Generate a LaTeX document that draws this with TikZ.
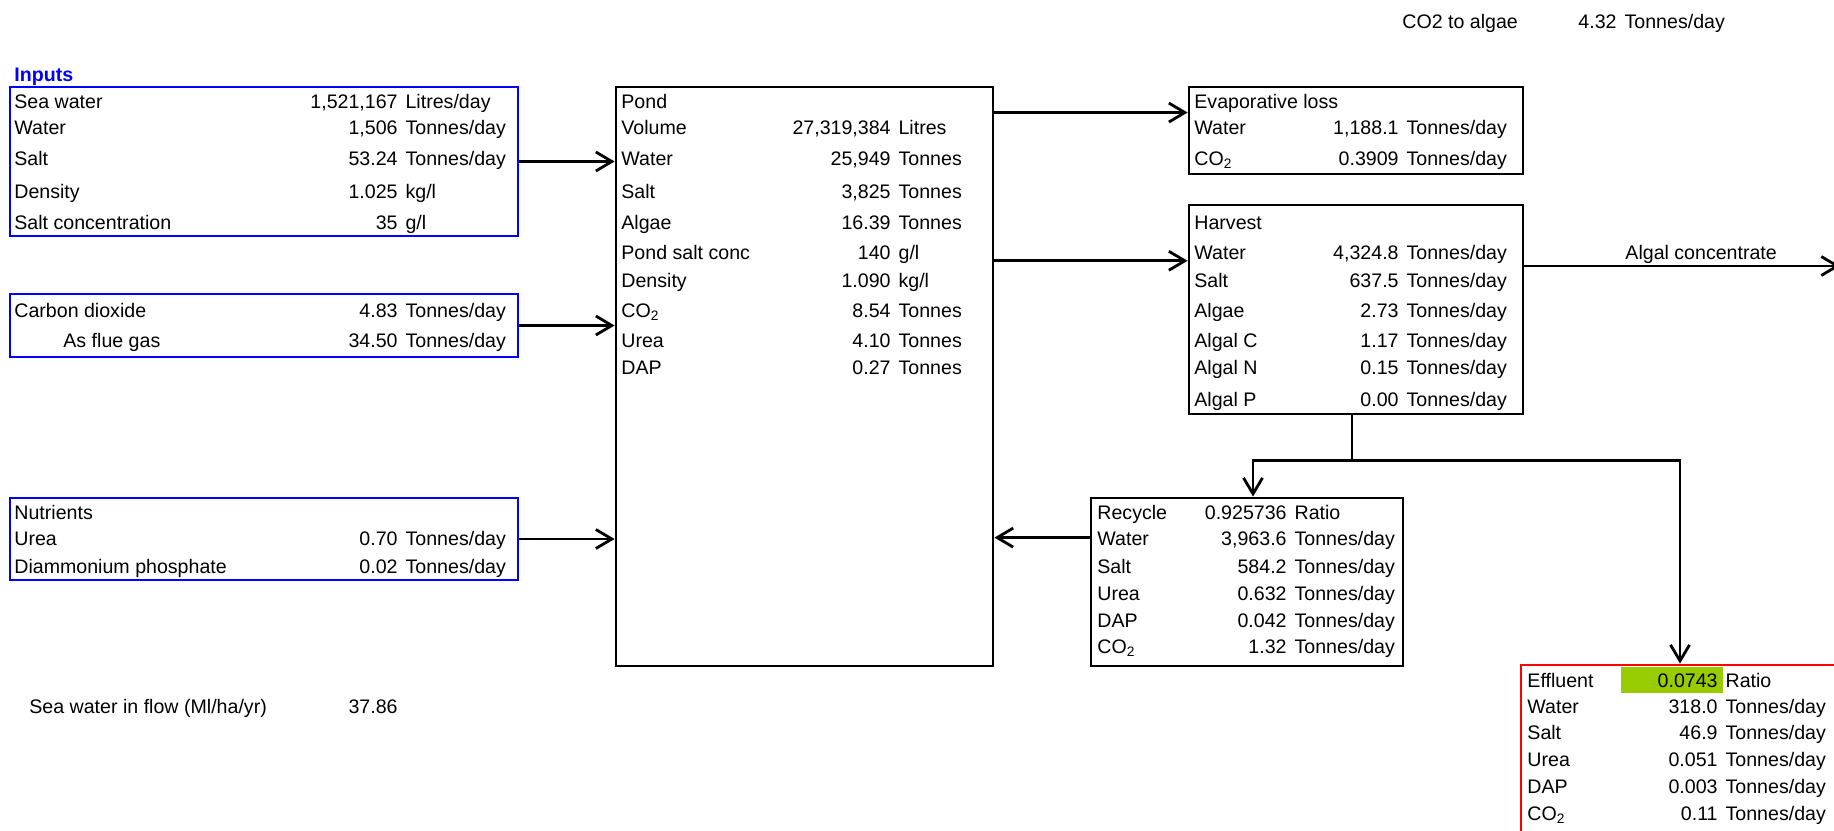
\documentclass[tikz,border=0pt]{standalone}
\usepackage{fontspec}
\setmainfont{Liberation Sans}
\usepackage{xcolor}
\usepackage{tikz}
\usetikzlibrary{arrows.meta,fit,calc}

\definecolor{xlblue}{RGB}{0,0,255}
\definecolor{xlred}{RGB}{255,0,0}
\definecolor{xlgreen}{RGB}{153,204,0}
\newcommand{\unt}[1]{\rlap{\hspace{4pt}#1}}

\begin{document}
\begin{tikzpicture}[
    x=0.5pt, y=-0.5pt,
    every node/.style={inner sep=0pt, font=\fontsize{9.8pt}{11pt}\selectfont},
    inbox/.style={draw=xlblue, line width=1.4pt, rectangle},
    unitbox/.style={draw=black, line width=1.4pt, rectangle},
    outbox/.style={draw=xlred, line width=1.4pt, rectangle},
    title/.style={anchor=base west, text=xlblue, font=\fontsize{9.8pt}{11pt}\selectfont\bfseries},
    lbl/.style={anchor=base west},
    val/.style={anchor=base east},
    arrow/.style={-{Straight Barb[length=8pt,width=9.5pt]}, line width=1.4pt},
    link/.style={line width=1.4pt}
]
\useasboundingbox (0,0) rectangle (1834,830);

% boxes
\node[inbox, fit={(10,87) (518,236)}] (inputs) {};
\node[inbox, fit={(10,294) (518,357)}] (gas) {};
\node[inbox, fit={(10,498) (518,580)}] (nutr) {};
\node[unitbox, fit={(616,87) (993,666)}] (pond) {};
\node[unitbox, fit={(1189,87) (1523,174)}] (evap) {};
\node[unitbox, fit={(1189,205) (1523,414)}] (harv) {};
\node[unitbox, fit={(1091,498) (1403,666)}] (recyc) {};
\node[fill=xlgreen, fit={(1621,667) (1723,693)}] (ratio) {};
\node[outbox, fit={(1521,665) (1839,850)}] (efflu) {};

% inputs
\node[title] (intitle) at (14,81) {Inputs};
\node[lbl] (in1) at (14,108) {Sea water};           \node[val] (in1v) at (398,108) {1,521,167\unt{Litres/day}};
\node[lbl] (in2) at (14,134) {Water};               \node[val] (in2v) at (398,134) {1,506\unt{Tonnes/day}};
\node[lbl] (in3) at (14,165) {Salt};                \node[val] (in3v) at (398,165) {53.24\unt{Tonnes/day}};
\node[lbl] (in4) at (14,198) {Density};             \node[val] (in4v) at (398,198) {1.025\unt{kg/l}};
\node[lbl] (in5) at (14,229) {Salt concentration};  \node[val] (in5v) at (398,229) {35\unt{g/l}};

\node[lbl] (gas1) at (14,317) {Carbon dioxide};     \node[val] (gas1v) at (398,317) {4.83\unt{Tonnes/day}};
\node[lbl] (gas2) at (63,347) {As flue gas};        \node[val] (gas2v) at (398,347) {34.50\unt{Tonnes/day}};

\node[lbl] (nu0) at (14,519) {Nutrients};
\node[lbl] (nu1) at (14,545) {Urea};                \node[val] (nu1v) at (398,545) {0.70\unt{Tonnes/day}};
\node[lbl] (nu2) at (14,573) {Diammonium phosphate}; \node[val] (nu2v) at (398,573) {0.02\unt{Tonnes/day}};

\node[lbl] (flow) at (29,713) {Sea water in flow (Ml/ha/yr)};  \node[val] (flowv) at (398,713) {37.86};

% pond
\node[lbl] (po0) at (621,108) {Pond};
\node[lbl] (po1) at (621,134) {Volume};             \node[val] (po1v) at (891,134) {27,319,384\unt{Litres}};
\node[lbl] (po2) at (621,165) {Water};              \node[val] (po2v) at (891,165) {25,949\unt{Tonnes}};
\node[lbl] (po3) at (621,198) {Salt};               \node[val] (po3v) at (891,198) {3,825\unt{Tonnes}};
\node[lbl] (po4) at (621,229) {Algae};              \node[val] (po4v) at (891,229) {16.39\unt{Tonnes}};
\node[lbl] (po5) at (621,259) {Pond salt conc};     \node[val] (po5v) at (891,259) {140\unt{g/l}};
\node[lbl] (po6) at (621,287) {Density};            \node[val] (po6v) at (891,287) {1.090\unt{kg/l}};
\node[lbl] (po7) at (621,317) {CO\textsubscript{2}}; \node[val] (po7v) at (891,317) {8.54\unt{Tonnes}};
\node[lbl] (po8) at (621,347) {Urea};               \node[val] (po8v) at (891,347) {4.10\unt{Tonnes}};
\node[lbl] (po9) at (621,374) {DAP};                \node[val] (po9v) at (891,374) {0.27\unt{Tonnes}};

% evaporation and harvest
\node[lbl] (co2a) at (1402,28) {CO2 to algae};      \node[val] (co2av) at (1617,28) {4.32\unt{Tonnes/day}};
\node[lbl] (ev0) at (1194,108) {Evaporative loss};
\node[lbl] (ev1) at (1194,134) {Water};             \node[val] (ev1v) at (1399,134) {1,188.1\unt{Tonnes/day}};
\node[lbl] (ev2) at (1194,165) {CO\textsubscript{2}}; \node[val] (ev2v) at (1399,165) {0.3909\unt{Tonnes/day}};

\node[lbl] (hv0) at (1194,229) {Harvest};
\node[lbl] (hv1) at (1194,259) {Water};             \node[val] (hv1v) at (1399,259) {4,324.8\unt{Tonnes/day}};
\node[lbl] (hv2) at (1194,287) {Salt};              \node[val] (hv2v) at (1399,287) {637.5\unt{Tonnes/day}};
\node[lbl] (hv3) at (1194,317) {Algae};             \node[val] (hv3v) at (1399,317) {2.73\unt{Tonnes/day}};
\node[lbl] (hv4) at (1194,347) {Algal C};           \node[val] (hv4v) at (1399,347) {1.17\unt{Tonnes/day}};
\node[lbl] (hv5) at (1194,374) {Algal N};           \node[val] (hv5v) at (1399,374) {0.15\unt{Tonnes/day}};
\node[lbl] (hv6) at (1194,406) {Algal P};           \node[val] (hv6v) at (1399,406) {0.00\unt{Tonnes/day}};
\node[lbl] (algc) at (1625,259) {Algal concentrate};

% recycle and effluent
\node[lbl] (rc0) at (1097,519) {Recycle};           \node[val] (rc0v) at (1287,519) {0.925736\unt{Ratio}};
\node[lbl] (rc1) at (1097,545) {Water};             \node[val] (rc1v) at (1287,545) {3,963.6\unt{Tonnes/day}};
\node[lbl] (rc2) at (1097,573) {Salt};              \node[val] (rc2v) at (1287,573) {584.2\unt{Tonnes/day}};
\node[lbl] (rc3) at (1097,600) {Urea};              \node[val] (rc3v) at (1287,600) {0.632\unt{Tonnes/day}};
\node[lbl] (rc4) at (1097,627) {DAP};               \node[val] (rc4v) at (1287,627) {0.042\unt{Tonnes/day}};
\node[lbl] (rc5) at (1097,653) {CO\textsubscript{2}}; \node[val] (rc5v) at (1287,653) {1.32\unt{Tonnes/day}};

\node[lbl] (ef0) at (1527,687) {Effluent};          \node[val] (ef0v) at (1718,687) {0.0743\unt{Ratio}};
\node[lbl] (ef1) at (1527,713) {Water};             \node[val] (ef1v) at (1718,713) {318.0\unt{Tonnes/day}};
\node[lbl] (ef2) at (1527,739) {Salt};              \node[val] (ef2v) at (1718,739) {46.9\unt{Tonnes/day}};
\node[lbl] (ef3) at (1527,766) {Urea};              \node[val] (ef3v) at (1718,766) {0.051\unt{Tonnes/day}};
\node[lbl] (ef4) at (1527,793) {DAP};               \node[val] (ef4v) at (1718,793) {0.003\unt{Tonnes/day}};
\node[lbl] (ef5) at (1527,820) {CO\textsubscript{2}}; \node[val] (ef5v) at (1718,820) {0.11\unt{Tonnes/day}};

% flows
\draw[arrow] (inputs.east) -- (inputs.east -| pond.west);
\draw[arrow] (gas.east) -- (gas.east -| pond.west);
\draw[arrow] (nutr.east) -- (nutr.east -| pond.west);
\coordinate (evin) at ($(evap.north west)!0.3!(evap.south west)$);
\coordinate (hvin) at ($(harv.north west)!0.27!(harv.south west)$);
\draw[arrow] (evin -| pond.east) -- (evin);
\draw[arrow] (hvin -| pond.east) -- (hvin);
\coordinate (algout) at (1840,266);
\draw[arrow] (algout -| harv.east) -- (algout);
\coordinate (hvout) at ([xshift=-2pt]harv.south);
\coordinate (split) at ($(hvout)+(0,45)$);
\draw[link] (hvout) -- (split);
\draw[arrow] (split) -| ([xshift=3pt]recyc.north);
\draw[arrow] (split) -| (efflu.north);
\coordinate (rcout) at ($(recyc.north west)!0.24!(recyc.south west)$);
\draw[arrow] (rcout) -- (rcout -| pond.east);
\end{tikzpicture}
\end{document}
